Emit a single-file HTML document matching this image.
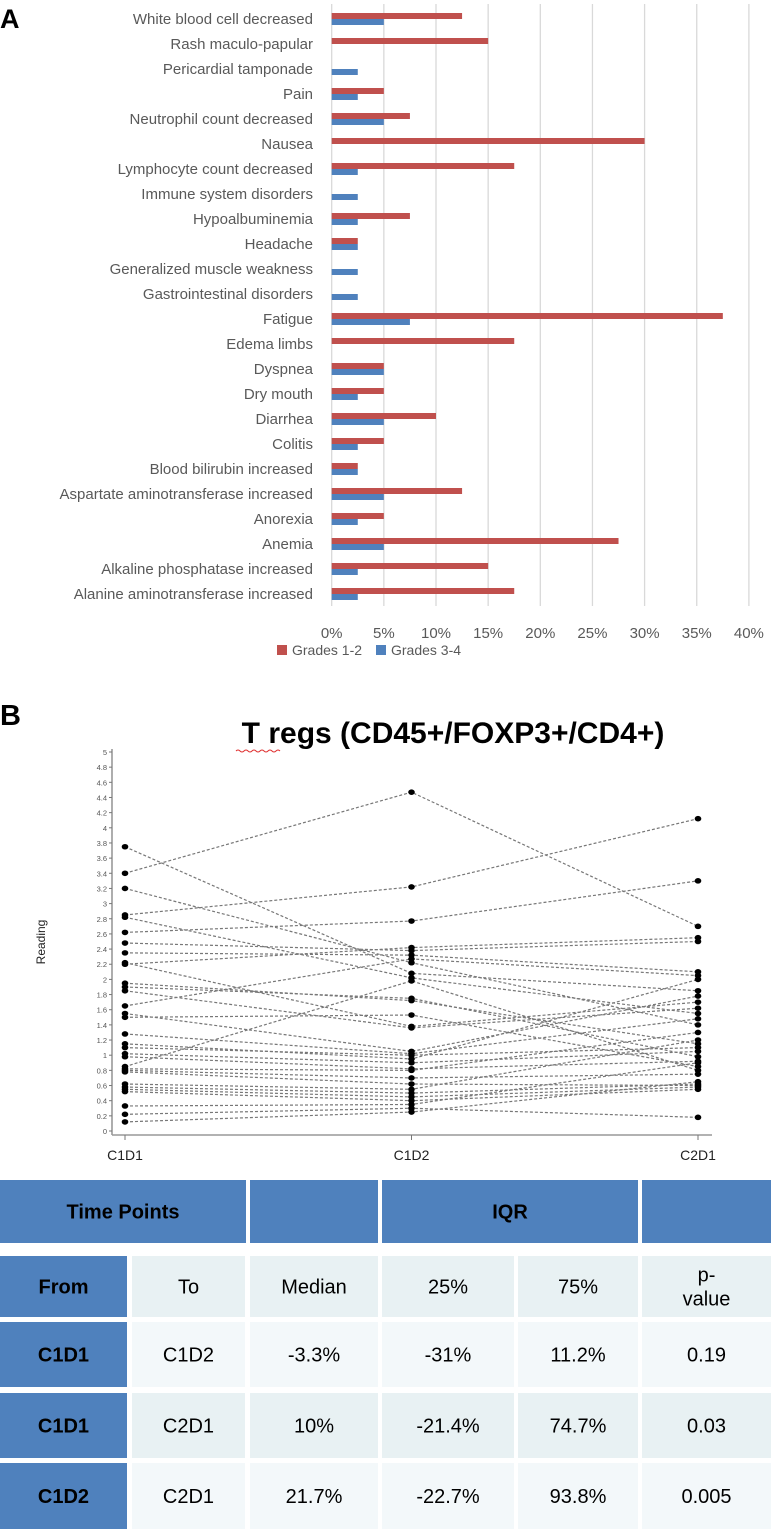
<!DOCTYPE html>
<html><head><meta charset="utf-8">
<style>
html,body{margin:0;padding:0;background:#fff;}
body{width:771px;height:1534px;position:relative;overflow:hidden;font-family:"Liberation Sans",sans-serif;}
svg{position:absolute;left:0;top:0;}
</style></head>
<body>
<svg id="chartA" width="771" height="680" viewBox="0 0 771 680"></svg>
<svg id="chartB" width="771" height="1180" viewBox="0 0 771 1180"></svg>
<svg id="table" width="771" height="1534" viewBox="0 0 771 1534"></svg>
<script>
const categories=["White blood cell decreased","Rash maculo-papular","Pericardial tamponade","Pain","Neutrophil count decreased","Nausea","Lymphocyte count decreased","Immune system disorders","Hypoalbuminemia","Headache","Generalized muscle weakness","Gastrointestinal disorders","Fatigue","Edema limbs","Dyspnea","Dry mouth","Diarrhea","Colitis","Blood bilirubin increased","Aspartate aminotransferase increased","Anorexia","Anemia","Alkaline phosphatase increased","Alanine aminotransferase increased"];
const grades12=[12.5,15,0,5,7.5,30,17.5,0,7.5,2.5,0,0,37.5,17.5,5,5,10,5,2.5,12.5,5,27.5,15,17.5];
const grades34=[5,0,2.5,2.5,5,0,2.5,2.5,2.5,2.5,2.5,2.5,7.5,0,5,2.5,5,2.5,2.5,5,2.5,5,2.5,2.5];
const xTicks=[0,5,10,15,20,25,30,35,40];

const timepoints=["C1D1","C1D2","C2D1"];
const c1d1=[3.75,3.4,3.2,2.85,2.82,2.62,2.48,2.35,2.22,2.2,1.95,1.9,1.85,1.65,1.55,1.5,1.28,1.15,1.1,1.02,0.98,0.85,0.82,0.8,0.78,0.62,0.58,0.55,0.52,0.33,0.22,0.12];
const c1d2=[2.08,4.47,2.22,3.22,2.02,2.77,2.38,2.32,1.38,2.42,1.72,1.75,1.36,2.27,1.05,1.53,1.02,0.95,1.0,0.9,0.82,1.98,0.8,0.7,0.62,0.55,0.5,0.45,0.4,0.35,0.3,0.25];
const c2d1=[1.85,2.7,1.4,4.12,1.55,3.3,2.5,2.1,1.7,2.55,1.15,0.98,1.62,2.05,1.78,0.85,1.48,2.0,1.1,1.05,0.92,0.8,1.3,0.75,0.6,1.2,0.62,0.58,0.55,0.9,0.18,0.65];
const yTicks=[0,0.2,0.4,0.6,0.8,1,1.2,1.4,1.6,1.8,2,2.2,2.4,2.6,2.8,3,3.2,3.4,3.6,3.8,4,4.2,4.4,4.6,4.8,5];

const NS="http://www.w3.org/2000/svg";
function mk(parent,tag,attrs,text){const e=document.createElementNS(NS,tag);for(const k in attrs)e.setAttribute(k,attrs[k]);if(text!==undefined)e.textContent=text;parent.appendChild(e);return e;}

// ---- Chart A ----
const A=document.getElementById('chartA');
const xA=v=>331.7+v*10.43;
const rowY=i=>19+i*25;
let t=mk(A,'text',{x:0,y:28,'font-size':27,'font-weight':'bold',fill:'#000'},'A');


xTicks.forEach(v=>{
  const g=mk(A,'line',{x1:xA(v),x2:xA(v),y1:4,y2:606,stroke:'#d9d9d9','stroke-width':1.3});
  
  
  const l=mk(A,'text',{x:xA(v),y:638,'font-size':15,fill:'#595959','text-anchor':'middle'},v+'%');
  
  
});
categories.forEach((c,i)=>{
  const y=rowY(i);
  const l=mk(A,'text',{x:313,y:y+5,'font-size':15,fill:'#595959','text-anchor':'end'},c);
  
  
  if(grades12[i]>0){const r=mk(A,'rect',{x:xA(0),y:y-6,width:xA(grades12[i])-xA(0),height:6,fill:'#c0504d'});
  
  }
  if(grades34[i]>0){const r=mk(A,'rect',{x:xA(0),y:y,width:xA(grades34[i])-xA(0),height:6,fill:'#4f81bd'});
  
  }
});
let lg=mk(A,'rect',{x:277,y:645,width:10,height:10,fill:'#c0504d'});


lg=mk(A,'text',{x:292,y:655,'font-size':14,fill:'#595959'},'Grades 1-2');


lg=mk(A,'rect',{x:376,y:645,width:10,height:10,fill:'#4f81bd'});


lg=mk(A,'text',{x:391,y:655,'font-size':14,fill:'#595959'},'Grades 3-4');



// ---- Chart B ----
const B=document.getElementById('chartB');
const yB=v=>1131-v*75.8;
const xPos=[125,411.5,698];
t=mk(B,'text',{x:0,y:725,'font-size':29,'font-weight':'bold',fill:'#000'},'B');


t=mk(B,'text',{x:453,y:743,'font-size':30,'font-weight':'bold',fill:'#000','text-anchor':'middle'},'T regs (CD45+/FOXP3+/CD4+)');


const sq=mk(B,'path',{d:'M236 751 q2 -2 4 0 t4 0 t4 0 t4 0 t4 0 t4 0 t4 0 t4 0 t4 0 t4 0 t4 0',stroke:'#e03030','stroke-width':1,fill:'none'});


t=mk(B,'text',{x:0,y:0,'font-size':12,fill:'#222','text-anchor':'middle',transform:'translate(45,942) rotate(-90)'},'Reading');


let ax=mk(B,'line',{x1:112,x2:112,y1:749,y2:1135,stroke:'#777','stroke-width':1.2});


ax=mk(B,'line',{x1:112,x2:712,y1:1135,y2:1135,stroke:'#999','stroke-width':1.5});


yTicks.forEach(v=>{
  const tk=mk(B,'line',{x1:109,x2:112,y1:yB(v),y2:yB(v),stroke:'#777','stroke-width':1});
  
  
  const l=mk(B,'text',{x:107,y:yB(v)+3,'font-size':7.5,fill:'#555','text-anchor':'end'},String(v));
  
  
});
timepoints.forEach((p,i)=>{
  const tk=mk(B,'line',{x1:xPos[i],x2:xPos[i],y1:1135,y2:1140,stroke:'#777'});
  
  
  const l=mk(B,'text',{x:xPos[i],y:1160,'font-size':14,fill:'#222','text-anchor':'middle'},p);
  
  
});
c1d1.forEach((v,i)=>{
  const vals=[c1d1[i],c1d2[i],c2d1[i]];
  const pts=vals.map((d,j)=>xPos[j]+','+yB(d)).join(' ');
  const pl=mk(B,'polyline',{points:pts,fill:'none',stroke:'#777','stroke-width':1.2,'stroke-dasharray':'3,2'});
  
  
  vals.forEach((d,j)=>{
    const c=mk(B,'ellipse',{cx:xPos[j],cy:yB(d),rx:3.3,ry:2.8,fill:'#000'});
    
    
  });
});

// ---- Table ----
const T=document.getElementById('table');
const dark='#4f81bd';
function cell(x,y,w,h,fill,txt,bold,name,size){
  const r=mk(T,'rect',{x:x,y:y,width:w,height:h,fill:fill});
  
  
  if(txt){
    const lines=txt.split('\n');
    lines.forEach((ln,k)=>{
      const tt=mk(T,'text',{x:x+w/2,y:y+h/2+7+(k-(lines.length-1)/2)*24,'font-size':size||20,'font-weight':bold?'bold':'normal',fill:'#000','text-anchor':'middle'},ln);
      
      
    });
  }
}
cell(0,1180,246,63,dark,'Time Points',true,'header-time-points');
cell(250,1180,128,63,dark,'',false,'header-blank');
cell(382,1180,256,63,dark,'IQR',true,'header-iqr');
cell(642,1180,129,63,dark,'',false,'header-blank-2');
const cols=[[0,127],[132,113],[250,128],[382,132],[518,120],[642,129]];
const rowsY=[[1256,61],[1322,65],[1393,65],[1463,66]];
const tableRows=[["From","To","Median","25%","75%","p-\nvalue"],["C1D1","C1D2","-3.3%","-31%","11.2%","0.19"],["C1D1","C2D1","10%","-21.4%","74.7%","0.03"],["C1D2","C2D1","21.7%","-22.7%","93.8%","0.005"]];
tableRows.forEach((row,ri)=>{
  row.forEach((v,ci)=>{
    const fill=ci===0?dark:(ri%2===0?'#e8f1f3':'#f3f8fa');
    cell(cols[ci][0],rowsY[ri][0],cols[ci][1],rowsY[ri][1],fill,v,ci===0,'table-r'+ri+'-c'+ci);
  });
});
</script>
</body></html>
